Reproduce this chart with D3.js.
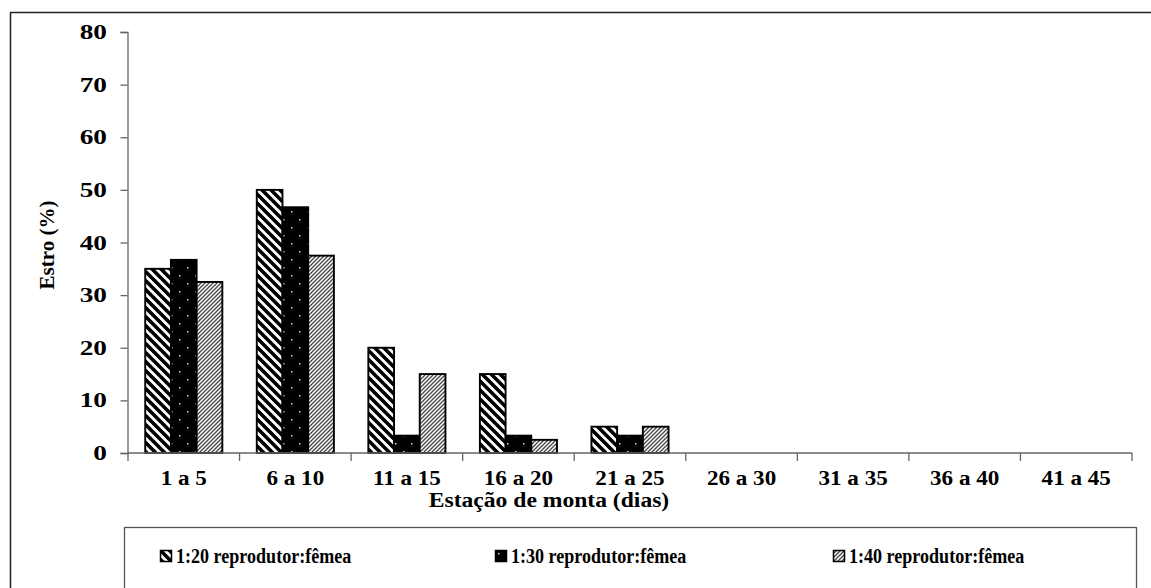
<!DOCTYPE html>
<html>
<head>
<meta charset="utf-8">
<script src="https://cdn.jsdelivr.net/npm/d3@7"></script>
<style>
  html, body { margin: 0; padding: 0; background: #fff; }
  svg text { font-family: "Liberation Serif", "Times New Roman", serif; font-weight: bold; fill: #000; }
</style>
</head>
<body>
<svg id="chart" width="1151" height="588"></svg>
<script>
// Categories: breeding-season intervals (days)
const categories = ["1 a 5", "6 a 10", "11 a 15", "16 a 20", "21 a 25", "26 a 30", "31 a 35", "36 a 40", "41 a 45"];
// Estrus (%) per interval for each sire:female ratio
const ratio20 = [35, 50, 20, 15, 5, 0, 0, 0, 0];
const ratio30 = [36.7, 46.7, 3.3, 3.3, 3.3, 0, 0, 0, 0];
const ratio40 = [32.5, 37.5, 15, 2.5, 5, 0, 0, 0, 0];
const seriesNames = ["1:20 reprodutor:fêmea", "1:30 reprodutor:fêmea", "1:40 reprodutor:fêmea"];
const yTicks = [0, 10, 20, 30, 40, 50, 60, 70, 80];

const series = [
  { name: seriesNames[0], values: ratio20, fill: "url(#pat20)" },
  { name: seriesNames[1], values: ratio30, fill: "url(#pat30)" },
  { name: seriesNames[2], values: ratio40, fill: "url(#pat40)" }
];

const svg = d3.select("#chart");

// Fill patterns
const defs = svg.append("defs");
// wide downward diagonal
const p20 = defs.append("pattern").attr("id", "pat20").attr("patternUnits", "userSpaceOnUse")
  .attr("width", 9).attr("height", 9);
p20.append("rect").attr("width", 9).attr("height", 9).attr("fill", "#fff");
p20.append("path").attr("d", "M-2,-2 L11,11 M-2,7 L2,11 M7,-2 L11,2")
  .attr("stroke", "#000").attr("stroke-width", 3.6);
// black with white dots
const p30 = defs.append("pattern").attr("id", "pat30").attr("patternUnits", "userSpaceOnUse")
  .attr("width", 16).attr("height", 16);
p30.append("rect").attr("width", 16).attr("height", 16).attr("fill", "#000");
p30.append("rect").attr("x", 3).attr("y", 3).attr("width", 1.5).attr("height", 1.5).attr("fill", "#ddd");
p30.append("rect").attr("x", 11).attr("y", 11).attr("width", 1.5).attr("height", 1.5).attr("fill", "#ddd");
// narrow upward diagonal
const p40 = defs.append("pattern").attr("id", "pat40").attr("patternUnits", "userSpaceOnUse")
  .attr("width", 4).attr("height", 4);
p40.append("rect").attr("width", 4).attr("height", 4).attr("fill", "#fff");
p40.append("path").attr("d", "M-1,5 L5,-1 M-1,1 L1,-1 M3,5 L5,3")
  .attr("stroke", "#444").attr("stroke-width", 1.3);

// Outer frame
svg.append("rect").attr("x", 10.5).attr("y", 12.5).attr("width", 1300).attr("height", 800)
  .attr("fill", "none").attr("stroke", "#222").attr("stroke-width", 1.5);

// Scales
const x = d3.scaleBand().domain(categories).range([128, 1132]).paddingInner(0).paddingOuter(0);
const xs = d3.scaleBand().domain(seriesNames).range([0, x.bandwidth()]).paddingInner(0).paddingOuter(0.67);
const y = d3.scaleLinear().domain([0, 80]).range([453, 32]);

// Bars
const plot = svg.append("g");
series.forEach(s => {
  plot.append("g").selectAll("rect").data(s.values.map((v, i) => ({ v, c: categories[i] })).filter(d => d.v > 0))
    .join("rect")
    .attr("x", d => x(d.c) + xs(s.name))
    .attr("width", xs.bandwidth())
    .attr("y", d => y(d.v))
    .attr("height", d => y(0) - y(d.v))
    .attr("fill", s.fill)
    .attr("stroke", "#000").attr("stroke-width", 1.9);
});

// Y axis (line + ticks from d3, labels drawn horizontally widened)
const yAxis = svg.append("g").attr("transform", "translate(127.5,0)")
  .call(d3.axisLeft(y).tickValues(yTicks).tickSize(7).tickFormat(""));
yAxis.select(".domain").attr("stroke", "#666").attr("stroke-width", 1.3);
yAxis.selectAll(".tick line").attr("stroke", "#666").attr("stroke-width", 1.3);
svg.append("g").selectAll("text").data(yTicks).join("text")
  .attr("transform", d => `translate(107,${y(d) + 7}) scale(1.3,1)`)
  .attr("text-anchor", "end").attr("font-size", 21).text(d => d);

// X axis: ticks at category boundaries
const xAxisG = svg.append("g").attr("transform", `translate(0,${y(0)})`);
xAxisG.append("line").attr("x1", x.range()[0]).attr("x2", x.range()[1])
  .attr("stroke", "#666").attr("stroke-width", 1.3);
xAxisG.selectAll("line.tk").data(categories.concat([null])).join("line").attr("class", "tk")
  .attr("x1", (d, i) => x.range()[0] + i * x.step()).attr("x2", (d, i) => x.range()[0] + i * x.step())
  .attr("y1", 0).attr("y2", 8).attr("stroke", "#666").attr("stroke-width", 1.3);
xAxisG.selectAll("text").data(categories).join("text")
  .attr("transform", d => `translate(${x(d) + x.bandwidth() / 2},32) scale(1.1,1)`)
  .attr("text-anchor", "middle").attr("font-size", 21).text(d => d);

// Axis titles
svg.append("text").attr("transform", "translate(54,245) rotate(-90) scale(1.05,1)")
  .attr("text-anchor", "middle").attr("font-size", 20).text("Estro (%)");
svg.append("text").attr("transform", "translate(549,507) scale(1.18,1)")
  .attr("text-anchor", "middle").attr("font-size", 20).text("Estação de monta (dias)");

// Legend
svg.append("rect").attr("x", 124.5).attr("y", 527.5).attr("width", 1012).attr("height", 300)
  .attr("fill", "none").attr("stroke", "#555").attr("stroke-width", 1.3);
const legendX = [160, 495, 833];
series.forEach((s, i) => {
  const g = svg.append("g").attr("transform", `translate(${legendX[i]},550)`);
  g.append("rect").attr("x", 0.5).attr("y", 0.5).attr("width", 11).attr("height", 11)
    .attr("fill", s.fill).attr("stroke", "#000").attr("stroke-width", 1.5);
  g.append("text").attr("transform", "translate(16,13) scale(0.86,1)")
    .attr("font-size", 21).text(s.name);
});
</script>
</body>
</html>
